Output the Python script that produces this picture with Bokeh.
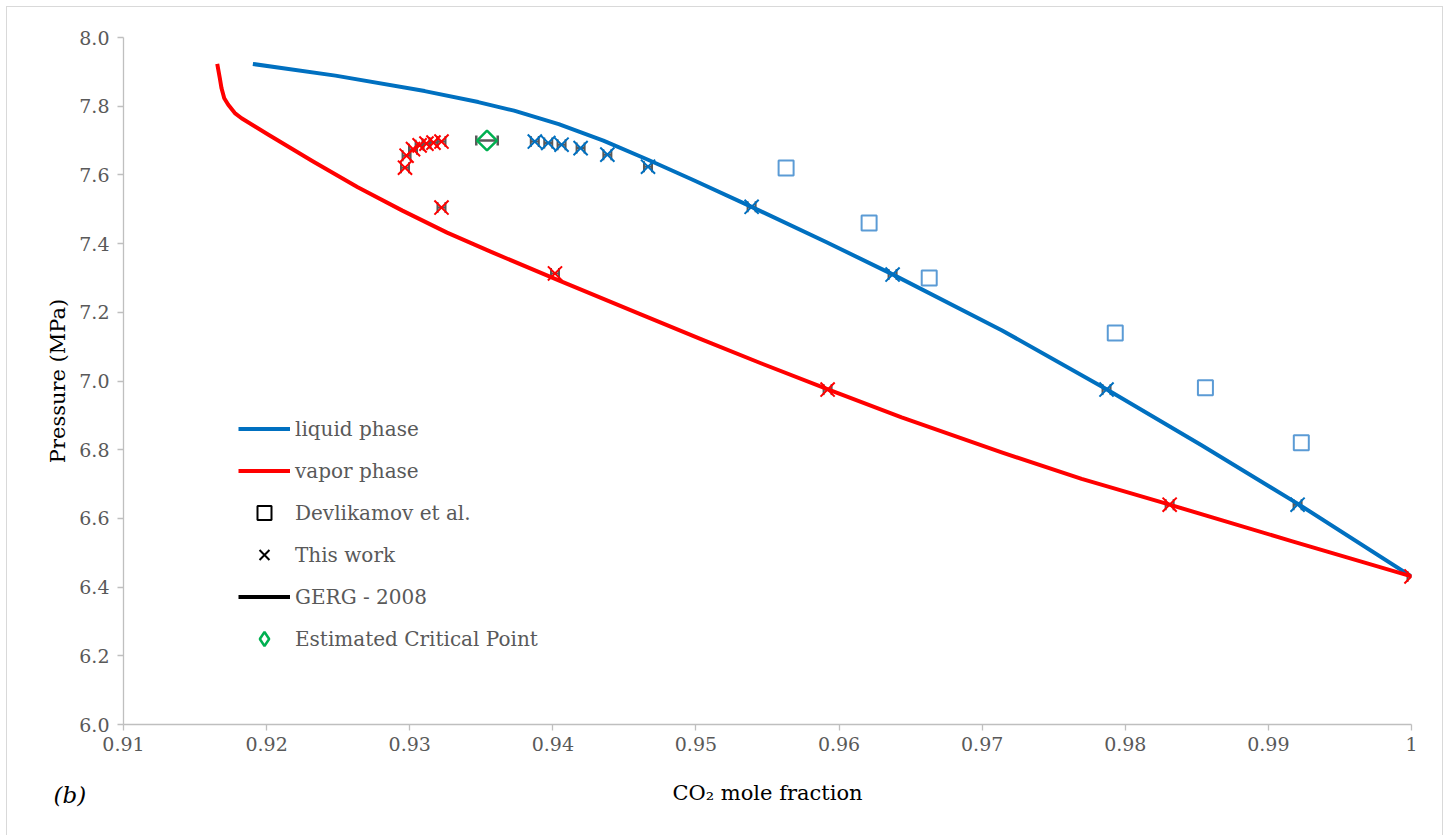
import math
from bokeh.plotting import figure
from bokeh.models import (ColumnDataSource, FixedTicker, Legend, LegendItem,
                          Whisker, TeeHead, Label, Range1d)
from bokeh.embed import file_html
from bokeh.resources import INLINE

# ---------------- data ----------------
liquid_x = [0.91904, 0.92481, 0.93105, 0.93479, 0.93729, 0.94041, 0.94353, 0.94665,
            0.94977, 0.95389, 0.95913, 0.96381, 0.97136, 0.97869, 0.98533, 0.99204, 1.0]
liquid_p = [7.923, 7.889, 7.844, 7.812, 7.787, 7.748, 7.700, 7.644,
            7.586, 7.507, 7.404, 7.309, 7.148, 6.976, 6.813, 6.643, 6.431]

vapor_x = [0.91655, 0.91673, 0.91685, 0.91704, 0.91732, 0.91778, 0.91825, 0.92013,
           0.92325, 0.92637, 0.92949, 0.93261, 0.93573, 0.94041, 0.94602, 0.95039,
           0.95458, 0.95941, 0.96437, 0.97136, 0.97695, 0.98310, 0.99162, 1.0]
vapor_p = [7.923, 7.882, 7.852, 7.823, 7.804, 7.780, 7.765, 7.717,
           7.639, 7.564, 7.496, 7.432, 7.375, 7.293, 7.196, 7.121,
           7.051, 6.973, 6.894, 6.792, 6.715, 6.640, 6.534, 6.431]

work_liq_x = [0.93874, 0.93968, 0.94061, 0.94194, 0.94381, 0.94665,
              0.95389, 0.96374, 0.97869, 0.99204]
work_liq_p = [7.697, 7.693, 7.688, 7.678, 7.659, 7.624,
              7.507, 7.310, 6.975, 6.640]

work_vap_x = [0.92967, 0.92978, 0.93023, 0.93069, 0.93117, 0.93166, 0.93222,
              0.93222, 0.94015, 0.95920, 0.98310, 1.0]
work_vap_p = [7.621, 7.656, 7.675, 7.686, 7.691, 7.694, 7.697,
              7.505, 7.313, 6.975, 6.640, 6.431]

work_x_err = 0.00028

devl_x = [0.9563, 0.9621, 0.9663, 0.9793, 0.9856, 0.9923]
devl_p = [7.62, 7.46, 7.30, 7.14, 6.98, 6.82]

crit_x = [0.9354]
crit_p = [7.70]
crit_x_err = [0.00075]

x_ticks = [0.91, 0.92, 0.93, 0.94, 0.95, 0.96, 0.97, 0.98, 0.99, 1.0]
x_tick_labels = ["0.91", "0.92", "0.93", "0.94", "0.95", "0.96", "0.97", "0.98", "0.99", "1"]
y_ticks = [6.0, 6.2, 6.4, 6.6, 6.8, 7.0, 7.2, 7.4, 7.6, 7.8, 8.0]
y_tick_labels = ["6.0", "6.2", "6.4", "6.6", "6.8", "7.0", "7.2", "7.4", "7.6", "7.8", "8.0"]

legend_labels = ["liquid phase", "vapor phase", "Devlikamov et al.", "This work",
                 "GERG - 2008", "Estimated Critical Point"]

# ---------------- style ----------------
FONT = "DejaVu Serif"
BLUE = "#0070C0"
RED = "#FF0000"
SQ = "#5B9BD5"
GREEN = "#00B050"
GREY = "#595959"
AXIS = "#BFBFBF"
DIAMOND_ANGLE = math.pi / 4

p = figure(width=1437, height=835, x_range=Range1d(0.91, 1.0), y_range=Range1d(6.0, 8.0),
           output_backend="svg", toolbar_location=None,
           min_border_left=116, min_border_right=33, min_border_top=30, min_border_bottom=118)
p.margin = (6, 0, 0, 6)
p.styles = {"border": "1px solid #D9D9D9"}
p.outline_line_color = None
p.xgrid.visible = False
p.ygrid.visible = False
p.background_fill_color = "white"
p.border_fill_color = "white"

for ax in (p.xaxis[0], p.yaxis[0]):
    ax.axis_line_color = AXIS
    ax.axis_line_width = 1.3
    ax.major_tick_line_color = AXIS
    ax.major_tick_line_width = 1.3
    ax.major_tick_in = 0
    ax.major_tick_out = 6
    ax.minor_tick_line_color = None
    ax.major_label_text_font = FONT
    ax.major_label_text_font_size = "19px"
    ax.major_label_text_color = GREY
    ax.axis_label_text_font = FONT
    ax.axis_label_text_font_style = "normal"
    ax.axis_label_text_color = "black"

p.xaxis[0].ticker = FixedTicker(ticks=x_ticks)
p.xaxis[0].major_label_overrides = dict(zip(x_ticks, x_tick_labels))
p.xaxis[0].major_label_standoff = 6
p.xaxis[0].axis_label = "CO\u2082 mole fraction"
p.xaxis[0].axis_label_text_font_size = "21px"
p.xaxis[0].axis_label_standoff = 27

p.yaxis[0].ticker = FixedTicker(ticks=y_ticks)
p.yaxis[0].major_label_overrides = dict(zip(y_ticks, y_tick_labels))
p.yaxis[0].major_label_standoff = 8
p.yaxis[0].axis_label = "Pressure (MPa)"
p.yaxis[0].axis_label_text_font_size = "21px"
p.yaxis[0].axis_label_standoff = 6

# curves
p.line(liquid_x, liquid_p, line_color=BLUE, line_width=4, line_join="round")
p.line(vapor_x, vapor_p, line_color=RED, line_width=4, line_join="round")

# Devlikamov et al.
p.scatter(devl_x, devl_p, marker="square", size=15, fill_color=None,
          line_color=SQ, line_width=2)

# error bars for this work
def add_errors(xs, ps):
    src = ColumnDataSource(dict(
        x=xs, p=ps,
        xl=[x - work_x_err for x in xs], xu=[x + work_x_err for x in xs]))
    p.add_layout(Whisker(source=src, base="p", lower="xl", upper="xu", dimension="width",
                         line_color=GREY, line_width=2, level="underlay",
                         lower_head=TeeHead(size=11, line_color=GREY, line_width=2),
                         upper_head=TeeHead(size=11, line_color=GREY, line_width=2)))

add_errors(work_liq_x, work_liq_p)
add_errors(work_vap_x, work_vap_p)

p.scatter(work_liq_x, work_liq_p, marker="x", size=20, line_color=BLUE, line_width=2)
p.scatter(work_vap_x, work_vap_p, marker="x", size=20, line_color=RED, line_width=2)

# critical point
csrc = ColumnDataSource(dict(x=crit_x, p=crit_p,
                             xl=[x - e for x, e in zip(crit_x, crit_x_err)],
                             xu=[x + e for x, e in zip(crit_x, crit_x_err)]))
p.add_layout(Whisker(source=csrc, base="p", lower="xl", upper="xu", dimension="width",
                     line_color=GREY, line_width=2.5, level="underlay",
                     lower_head=TeeHead(size=10, line_color=GREY, line_width=2.5),
                     upper_head=TeeHead(size=10, line_color=GREY, line_width=2.5)))
p.scatter("x", "p", source=csrc, marker="square", angle=DIAMOND_ANGLE, size=14,
          fill_color=None, line_color=GREEN, line_width=2.5)

# legend proxies (one point each, far outside the visible range)
def proxy():
    return ColumnDataSource(dict(x=[0.5], y=[3.0]))

r_liq = p.line("x", "y", source=proxy(), line_color=BLUE, line_width=4)
r_vap = p.line("x", "y", source=proxy(), line_color=RED, line_width=4)
r_sq = p.scatter("x", "y", source=proxy(), marker="square", size=12,
                 fill_color=None, line_color="black", line_width=2)
r_x = p.scatter("x", "y", source=proxy(), marker="x", size=12,
                line_color="black", line_width=2)
r_gerg = p.line("x", "y", source=proxy(), line_color="black", line_width=4)
r_cp = p.scatter("x", "y", source=proxy(), marker="diamond", size=12,
                 fill_color=None, line_color=GREEN, line_width=2.5)

legend = Legend(items=[LegendItem(label=lab, renderers=[r]) for lab, r in
                       zip(legend_labels, [r_liq, r_vap, r_sq, r_x, r_gerg, r_cp])],
                location=(115, 68), orientation="vertical")
legend.glyph_width = 52
legend.glyph_height = 35
legend.label_height = 35
legend.spacing = 7
legend.padding = 0
legend.margin = 0
legend.label_standoff = 5
legend.label_text_font = FONT
legend.label_text_font_size = "20px"
legend.label_text_color = GREY
legend.border_line_color = None
legend.background_fill_alpha = 0
p.add_layout(legend)

# panel label, placed in a side panel so it is not clipped to the frame
p.add_layout(Label(x=0.90511, y=5.796, text="(b)",
                   text_font=FONT, text_font_size="23px", text_font_style="italic",
                   text_color="black", text_baseline="middle", text_align="left"), "below")

open("out.html", "w").write(file_html(p, INLINE))
